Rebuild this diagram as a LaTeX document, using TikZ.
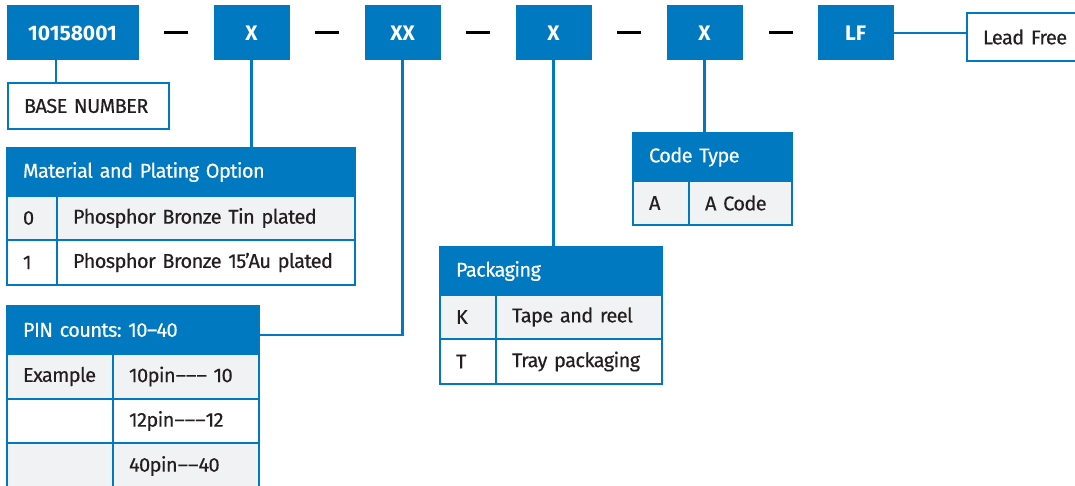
\documentclass[tikz,border=0pt]{standalone}
\usepackage{fontspec}
\setmainfont{Fira Sans}[LetterSpace=-3, FakeBold=0.3]
\newfontfamily\codefont{Fira Sans}
\newfontfamily\dashfont{Fira Sans}[FakeBold=0.3]
\frenchspacing
\definecolor{bblue}{RGB}{0,121,193}
\definecolor{cgray}{RGB}{241,242,243}
\definecolor{txt}{RGB}{35,31,32}
\begin{document}
\begin{tikzpicture}[x=1pt,y=-1pt,
  every node/.style={inner ysep=0pt, outer sep=0pt},
  codebox/.style={fill=bblue, draw=bblue, line width=1pt, text=white, anchor=north west,
    minimum width=75pt, minimum height=54pt, inner xsep=0pt, font=\codefont\fontsize{21}{25}\selectfont\bfseries},
  hdr/.style={fill=bblue, draw=bblue, line width=2pt, text=white, anchor=north west, align=left,
    inner xsep=16pt, minimum height=48pt, font=\fontsize{20}{24}\selectfont},
  cell/.style={draw=bblue, line width=2pt, text=txt, anchor=north west, align=left,
    inner xsep=16pt, font=\fontsize{20}{24}\selectfont},
  gcell/.style={cell, fill=cgray},
  wcell/.style={cell, fill=white},
  dashbar/.style={line width=3pt, black},
  conn/.style={draw=bblue, line width=2.5pt}
]
\clip (0,0) rectangle (1075,486);
% top code row
\node[codebox, minimum width=131pt] (b1) at (7,6) {10158001};
\node[codebox] (x1) at (214,6) {X};
\node[codebox] (xx) at (365,6) {XX};
\node[codebox] (x3) at (516,6) {X};
\node[codebox] (x4) at (667,6) {X};
\node[codebox] (lf) at (818,6) {LF};
% dashes
\coordinate (d1a) at (164,33); \coordinate (d1b) at (188,33);
\coordinate (d2a) at (315,33); \coordinate (d2b) at (339,33);
\coordinate (d3a) at (466,33); \coordinate (d3b) at (490,33);
\coordinate (d4a) at (617,33); \coordinate (d4b) at (641,33);
\coordinate (d5a) at (769,33); \coordinate (d5b) at (793,33);
\draw[dashbar] (d1a) -- (d1b);
\draw[dashbar] (d2a) -- (d2b);
\draw[dashbar] (d3a) -- (d3b);
\draw[dashbar] (d4a) -- (d4b);
\draw[dashbar] (d5a) -- (d5b);
% lead free
\node[wcell, minimum height=48pt, text width=100pt] (lead) at (967,13) {Lead Free};
\draw[conn] (lf.east) -- (lf.east -| lead.west);
% base number
\node[wcell, minimum height=46pt, text width=129pt] (bn) at (8,83) {BASE NUMBER};
\draw[conn] ([xshift=49pt]b1.south west) -- ([xshift=48pt]bn.north west);
% material table
\node[hdr, text width=316pt] (mh) at (7,148) {Material and Plating Option};
\node[gcell, minimum height=44pt, text width=18pt] (m1a) at (7,196) {0};
\node[gcell, minimum height=44pt, text width=266pt] (m1b) at (57,196) {Phosphor Bronze Tin plated};
\node[wcell, minimum height=45pt, text width=18pt] (m2a) at (7,240) {1};
\node[wcell, minimum height=45pt, text width=266pt] (m2b) at (57,240) {Phosphor Bronze 15’Au plated};
\draw[conn] (x1.south) -- (mh.north -| x1.south);
% pin table
\node[hdr, text width=220pt] (ph) at (7,306) {PIN counts: 10–40};
\node[gcell, minimum height=45pt, text width=74pt] (p1a) at (7,354) {Example};
\node[gcell, minimum height=45pt, text width=114pt] (p1b) at (113,354) {10pin{\dashfont–––} 10};
\node[wcell, minimum height=44pt, text width=74pt] (p2a) at (7,399) {};
\node[wcell, minimum height=44pt, text width=114pt] (p2b) at (113,399) {12pin{\dashfont–––}12};
\node[gcell, minimum height=46pt, text width=74pt] (p3a) at (7,443) {};
\node[gcell, minimum height=46pt, text width=114pt] (p3b) at (113,443) {40pin{\dashfont––}40};
\coordinate (phin) at ([yshift=-5pt]ph.east);
\draw[conn] (xx.south) -- (xx.south |- phin) -- (phin);
% packaging table
\node[hdr, text width=190pt] (kh) at (440,247) {Packaging};
\node[gcell, minimum height=44pt, text width=24pt] (k1a) at (440,295) {K};
\node[gcell, minimum height=44pt, text width=134pt] (k1b) at (496,295) {Tape and reel};
\node[wcell, minimum height=45pt, text width=24pt] (k2a) at (440,339) {T};
\node[wcell, minimum height=45pt, text width=134pt] (k2b) at (496,339) {Tray packaging};
\draw[conn] (x3.south) -- (kh.north -| x3.south);
% code type table
\node[hdr, text width=127pt] (ch) at (633,133) {Code Type};
\node[gcell, minimum height=44pt, text width=24pt] (c1a) at (633,181) {A};
\node[gcell, minimum height=44pt, text width=71pt] (c1b) at (689,181) {A Code};
\draw[conn] (x4.south) -- (ch.north -| x4.south);
\end{tikzpicture}
\end{document}
